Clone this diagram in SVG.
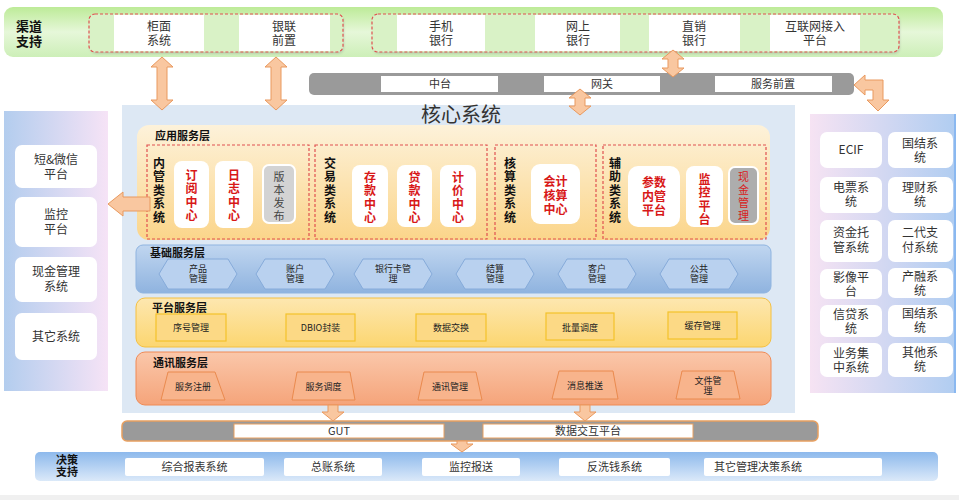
<svg xmlns="http://www.w3.org/2000/svg" width="959" height="500" viewBox="0 0 959 500">
<defs>
<linearGradient id="gGreen" x1="0" y1="0" x2="0" y2="1"><stop offset="0" stop-color="#bdeb98"/><stop offset="0.5" stop-color="#e6f7d9"/><stop offset="1" stop-color="#cdefb8"/></linearGradient>
<linearGradient id="gApp" x1="0" y1="0" x2="0" y2="1"><stop offset="0" stop-color="#fdf2da"/><stop offset="1" stop-color="#fbd58a"/></linearGradient>
<linearGradient id="gBase" x1="0" y1="0" x2="0" y2="1"><stop offset="0" stop-color="#c0d6f0"/><stop offset="1" stop-color="#8fb3df"/></linearGradient>
<linearGradient id="gPlat" x1="0" y1="0" x2="0" y2="1"><stop offset="0" stop-color="#fde7b0"/><stop offset="1" stop-color="#fcd670"/></linearGradient>
<linearGradient id="gComm" x1="0" y1="0" x2="0" y2="1"><stop offset="0" stop-color="#fac7aa"/><stop offset="1" stop-color="#f5a47a"/></linearGradient>
<linearGradient id="gLeft" x1="0" y1="0" x2="1" y2="0"><stop offset="0" stop-color="#b3cdee"/><stop offset="1" stop-color="#f6e3f6"/></linearGradient>
<linearGradient id="gRight" x1="0" y1="0" x2="1" y2="0"><stop offset="0" stop-color="#f6e3f3"/><stop offset="1" stop-color="#b0cdf1"/></linearGradient>
<linearGradient id="gDec" x1="0" y1="0" x2="0" y2="1"><stop offset="0" stop-color="#8db9ec"/><stop offset="1" stop-color="#dbe9f9"/></linearGradient>
<filter id="sh" x="-5%" y="-20%" width="110%" height="150%"><feDropShadow dx="1" dy="2" stdDeviation="1.2" flood-color="#888" flood-opacity="0.5"/></filter>
</defs>
<style>
text{font-family:"Noto Sans CJK SC","Noto Sans",sans-serif;fill:#333;}
.t12{font-size:12px;text-anchor:middle;}
.t11{font-size:11px;text-anchor:middle;}
.t9{font-size:9px;text-anchor:middle;fill:#222;}
.b12{font-size:12px;font-weight:bold;fill:#111;text-anchor:middle;}
.v{writing-mode:vertical-rl;text-anchor:start;letter-spacing:1.5px;}
.vb{font-size:12px;font-weight:bold;fill:#111;}
.lay{font-size:11px;font-weight:bold;fill:#111;}
.red{font-size:12px;font-weight:bold;fill:#d81818;text-anchor:middle;}
.vred{font-size:12px;font-weight:bold;fill:#d81818;}
.wbox{fill:#fff;}
.dash{fill:none;stroke:#e05050;stroke-width:1.2;stroke-dasharray:3,2;}
.card{fill:#fff;}
.gcard{stroke:#fff;stroke-width:2;}
.arrow{fill:#f9c7a0;stroke:#e9995e;stroke-width:1;}
.hex{fill:#b9d1ef;stroke:#86abda;stroke-width:1;}
.pbox{fill:#fcd985;stroke:#f3c22a;stroke-width:1.2;}
.trap{fill:#f8b48c;stroke:#ea8a4e;stroke-width:1;}
.rbox{fill:#fff;}
</style>

<!-- channel band -->
<g id="channel">
<rect x="4" y="7" width="939" height="50" rx="9" fill="url(#gGreen)"/>
<text x="29" y="31" class="b12" style="font-size:13px">渠道</text>
<text x="29" y="46" class="b12" style="font-size:13px">支持</text>
</g>
<g id="channel-group1">
<rect x="89" y="14" width="254" height="38" rx="6" fill="#ddd" filter="url(#sh)" opacity="0.6"/>
<rect x="89" y="14" width="254" height="38" rx="6" fill="#d9f2c6"/>
<rect x="114" y="15" width="90" height="36" class="wbox"/>
<rect x="239" y="15" width="91" height="36" class="wbox"/>
<rect x="89" y="14" width="254" height="38" rx="6" class="dash"/>
<text x="159" y="31" class="t12">柜面</text><text x="159" y="45" class="t12">系统</text>
<text x="284" y="31" class="t12">银联</text><text x="284" y="45" class="t12">前置</text>
</g>
<g id="channel-group2">
<rect x="372" y="14" width="527" height="38" rx="6" fill="#ddd" filter="url(#sh)" opacity="0.6"/>
<rect x="372" y="14" width="527" height="38" rx="6" fill="#d9f2c6"/>
<rect x="397" y="15" width="88" height="36" class="wbox"/>
<rect x="535" y="15" width="85" height="36" class="wbox"/>
<rect x="649" y="15" width="91" height="36" class="wbox"/>
<rect x="770" y="15" width="90" height="36" class="wbox"/>
<rect x="372" y="14" width="527" height="38" rx="6" class="dash"/>
<text x="441" y="31" class="t12">手机</text><text x="441" y="45" class="t12">银行</text>
<text x="578" y="31" class="t12">网上</text><text x="578" y="45" class="t12">银行</text>
<text x="694" y="31" class="t12">直销</text><text x="694" y="45" class="t12">银行</text>
<text x="815" y="31" class="t12">互联网接入</text><text x="815" y="45" class="t12">平台</text>
</g>

<!-- gateway bar -->
<g id="gateway">
<rect x="309" y="73" width="545" height="22" rx="5" fill="#9a9a9a"/>
<rect x="381" y="76" width="117" height="16" fill="#fff"/>
<rect x="544" y="76" width="116" height="16" fill="#fff"/>
<rect x="715" y="76" width="117" height="16" fill="#fff"/>
<text x="440" y="88" class="t11">中台</text>
<text x="602" y="88" class="t11">网关</text>
<text x="773" y="88" class="t11">服务前置</text>
</g>

<!-- left panel -->
<g id="left-panel">
<rect x="4" y="111" width="104" height="280" fill="url(#gLeft)"/>
<rect x="15" y="145" width="82" height="43" rx="7" class="rbox"/>
<rect x="15" y="197" width="82" height="50" rx="7" class="rbox"/>
<rect x="15" y="257" width="82" height="45" rx="7" class="rbox"/>
<rect x="15" y="313" width="82" height="47" rx="7" class="rbox"/>
<text x="56" y="164" class="t12">短&amp;微信</text><text x="56" y="179" class="t12">平台</text>
<text x="56" y="219" class="t12">监控</text><text x="56" y="234" class="t12">平台</text>
<text x="56" y="276" class="t12">现金管理</text><text x="56" y="291" class="t12">系统</text>
<text x="56" y="341" class="t12">其它系统</text>
</g>

<!-- right panel -->
<g id="right-panel">
<rect x="810" y="114" width="146" height="279" fill="url(#gRight)"/>
<rect x="954" y="114" width="2" height="279" fill="#8ab8f0"/>
<rect x="820" y="132" width="62" height="36" rx="7" class="rbox"/>
<rect x="888" y="132" width="65" height="36" rx="7" class="rbox"/>
<rect x="820" y="177" width="62" height="36" rx="7" class="rbox"/>
<rect x="888" y="177" width="65" height="36" rx="7" class="rbox"/>
<rect x="820" y="220" width="62" height="42" rx="7" class="rbox"/>
<rect x="888" y="220" width="65" height="42" rx="7" class="rbox"/>
<rect x="820" y="269" width="62" height="30" rx="7" class="rbox"/>
<rect x="888" y="268" width="65" height="30" rx="7" class="rbox"/>
<rect x="820" y="305" width="62" height="32" rx="7" class="rbox"/>
<rect x="888" y="305" width="65" height="32" rx="7" class="rbox"/>
<rect x="820" y="343" width="62" height="34" rx="7" class="rbox"/>
<rect x="888" y="343" width="65" height="34" rx="7" class="rbox"/>
<text x="851" y="154" class="t12">ECIF</text>
<text x="920" y="148" class="t12">国结系</text><text x="920" y="162" class="t12">统</text>
<text x="851" y="192" class="t12">电票系</text><text x="851" y="206" class="t12">统</text>
<text x="920" y="192" class="t12">理财系</text><text x="920" y="206" class="t12">统</text>
<text x="851" y="237" class="t12">资金托</text><text x="851" y="252" class="t12">管系统</text>
<text x="920" y="237" class="t12">二代支</text><text x="920" y="252" class="t12">付系统</text>
<text x="851" y="282" class="t12">影像平</text><text x="851" y="296" class="t12">台</text>
<text x="920" y="281" class="t12">产融系</text><text x="920" y="295" class="t12">统</text>
<text x="851" y="319" class="t12">信贷系</text><text x="851" y="333" class="t12">统</text>
<text x="920" y="318" class="t12">国结系</text><text x="920" y="332" class="t12">统</text>
<text x="851" y="358" class="t12">业务集</text><text x="851" y="372" class="t12">中系统</text>
<text x="920" y="357" class="t12">其他系</text><text x="920" y="371" class="t12">统</text>
</g>

<!-- core system -->
<g id="core">
<rect x="122" y="105" width="673" height="308" fill="#dde8f4"/>
<text x="461" y="122" style="font-size:20px;text-anchor:middle;fill:#333">核心系统</text>
</g>

<g id="app-layer">
<rect x="137" y="125" width="633" height="115" rx="12" fill="url(#gApp)"/>
<text x="155" y="140" class="lay">应用服务层</text>
<rect x="147" y="145" width="162" height="94" class="dash"/>
<rect x="315" y="145" width="172" height="94" class="dash"/>
<rect x="495" y="145" width="101" height="94" class="dash"/>
<rect x="603" y="145" width="163" height="94" class="dash"/>
</g>

<g id="neiguan">
<text x="159" y="157" class="v vb">内管类系统</text>
<rect x="174" y="161" width="35" height="67" rx="8" class="card"/>
<text x="191.5" y="169" class="v vred">订阅中心</text>
<rect x="215" y="161" width="38" height="67" rx="8" class="card"/>
<text x="234" y="169" class="v vred">日志中心</text>
<rect x="263" y="165" width="32" height="58" rx="6" fill="#d3d3d3" class="gcard"/>
<text x="279" y="171.5" class="v" style="font-size:11px;fill:#444;letter-spacing:2px">版本发布</text>
</g>

<g id="jiaoyi">
<text x="330" y="157" class="v vb">交易类系统</text>
<rect x="352" y="165" width="36" height="62" rx="8" class="card"/>
<text x="370" y="171" class="v vred">存款中心</text>
<rect x="397" y="165" width="35" height="62" rx="8" class="card"/>
<text x="414.5" y="171" class="v vred">贷款中心</text>
<rect x="440" y="165" width="36" height="62" rx="8" class="card"/>
<text x="458" y="171" class="v vred">计价中心</text>
</g>

<g id="hesuan">
<text x="510" y="157" class="v vb">核算类系统</text>
<rect x="531" y="164" width="49" height="60" rx="9" class="card"/>
<text x="555.5" y="186" class="red">会计</text>
<text x="555.5" y="200" class="red">核算</text>
<text x="555.5" y="214" class="red">中心</text>
</g>

<g id="fuzhu">
<text x="615" y="157" class="v vb">辅助类系统</text>
<rect x="628" y="166" width="52" height="61" rx="10" class="card"/>
<text x="654" y="187" class="red">参数</text>
<text x="654" y="201" class="red">内管</text>
<text x="654" y="215" class="red">平台</text>
<rect x="686" y="166" width="37" height="61" rx="8" class="card"/>
<text x="704.5" y="173" class="v vred">监控平台</text>
<rect x="729" y="167" width="29" height="57" rx="6" fill="#adadad" class="gcard"/>
<text x="743.5" y="171.5" class="v" style="font-size:11px;fill:#d82020;letter-spacing:2px">现金管理</text>
</g>

<g id="base-layer">
<rect x="136" y="245" width="635" height="48" rx="7" fill="url(#gBase)" stroke="#8fb4e0"/>
<text x="150" y="257" class="lay">基础服务层</text>
<polygon class="hex" points="159,274 168,259 228,259 237,274 228,289 168,289"/>
<polygon class="hex" points="256,274 265,259 325,259 334,274 325,289 265,289"/>
<polygon class="hex" points="354,274 363,259 423,259 432,274 423,289 363,289"/>
<polygon class="hex" points="456,274 465,259 525,259 534,274 525,289 465,289"/>
<polygon class="hex" points="558,274 567,259 627,259 636,274 627,289 567,289"/>
<polygon class="hex" points="660,274 669,259 729,259 738,274 729,289 669,289"/>
<text x="198" y="272" class="t9">产品</text><text x="198" y="282" class="t9">管理</text>
<text x="295" y="272" class="t9">账户</text><text x="295" y="282" class="t9">管理</text>
<text x="393" y="272" class="t9">银行卡管</text><text x="393" y="282" class="t9">理</text>
<text x="495" y="272" class="t9">结算</text><text x="495" y="282" class="t9">管理</text>
<text x="597" y="272" class="t9">客户</text><text x="597" y="282" class="t9">管理</text>
<text x="699" y="272" class="t9">公共</text><text x="699" y="282" class="t9">管理</text>
</g>

<g id="platform-layer">
<rect x="136" y="298" width="635" height="49" rx="9" fill="url(#gPlat)" stroke="#f5c040"/>
<text x="152" y="312" class="lay">平台服务层</text>
<rect x="156" y="314" width="70" height="27" class="pbox"/>
<rect x="286" y="314" width="69" height="27" class="pbox"/>
<rect x="416" y="314" width="70" height="27" class="pbox"/>
<rect x="546" y="313" width="68" height="27" class="pbox"/>
<rect x="668" y="312" width="69" height="27" class="pbox"/>
<text x="191" y="331" class="t9">序号管理</text>
<text x="320.5" y="331" class="t9">DBIO封装</text>
<text x="451" y="331" class="t9">数据交换</text>
<text x="580" y="331" class="t9">批量调度</text>
<text x="702.5" y="329" class="t9">缓存管理</text>
</g>

<g id="comm-layer">
<rect x="136" y="352" width="635" height="53" rx="9" fill="url(#gComm)" stroke="#f08a55"/>
<text x="153" y="367" class="lay">通讯服务层</text>
<polygon class="trap" points="168,372 215,372 225,400 161,400"/>
<polygon class="trap" points="297,372 350,372 355,400 292,400"/>
<polygon class="trap" points="424,372 476,372 482,400 418,400"/>
<polygon class="trap" points="559,371 613,371 618,399 552,399"/>
<polygon class="trap" points="682,371 734,371 740,399 676,399"/>
<text x="193" y="390" class="t9">服务注册</text>
<text x="323.5" y="390" class="t9">服务调度</text>
<text x="450" y="390" class="t9">通讯管理</text>
<text x="585" y="389" class="t9">消息推送</text>
<text x="708" y="384" class="t9">文件管</text><text x="708" y="394" class="t9">理</text>
</g>

<!-- GUT bar -->
<g id="gut">
<rect x="122" y="421" width="696" height="20" rx="5" fill="#9a9a9a" stroke="#e8a060" stroke-width="1.5"/>
<rect x="234" y="424" width="210" height="14" fill="#fff" stroke="#e8a060"/>
<rect x="483" y="424" width="210" height="14" fill="#fff" stroke="#e8a060"/>
<text x="339" y="435" class="t11">GUT</text>
<text x="588" y="435" class="t11">数据交互平台</text>
</g>

<!-- decision band -->
<g id="decision">
<rect x="35" y="452" width="903" height="29" rx="5" fill="url(#gDec)"/>
<text x="67" y="464" class="b12" style="font-size:11px">决策</text>
<text x="67" y="476" class="b12" style="font-size:11px">支持</text>
<rect x="125" y="458" width="139" height="18" rx="2" fill="#fff"/>
<rect x="284" y="458" width="98" height="18" rx="2" fill="#fff"/>
<rect x="422" y="458" width="98" height="18" rx="2" fill="#fff"/>
<rect x="559" y="458" width="111" height="18" rx="2" fill="#fff"/>
<rect x="704" y="458" width="178" height="18" rx="2" fill="#fff"/>
<text x="194.5" y="471" class="t11">综合报表系统</text>
<text x="333" y="471" class="t11">总账系统</text>
<text x="471" y="471" class="t11">监控报送</text>
<text x="614.5" y="471" class="t11">反洗钱系统</text>
<text x="714" y="471" style="font-size:11px">其它管理决策系统</text>
</g>

<rect x="0" y="495" width="959" height="5" fill="#f0f0f0"/>

<!-- connectors -->
<g id="connectors">
<path class="arrow" d="M162,57 L173,67 L167,67 L167,100 L173,100 L162,110 L151,100 L157,100 L157,67 L151,67 Z"/>
<path class="arrow" d="M276,57 L287,67 L281,67 L281,100 L287,100 L276,110 L265,100 L271,100 L271,67 L265,67 Z"/>
<path class="arrow" d="M673,50 L684,59 L678,59 L678,68 L684,68 L673,77 L662,68 L668,68 L668,59 L662,59 Z"/>
<path class="arrow" d="M580,89 L591,98 L585,98 L585,106 L591,106 L580,115 L569,106 L575,106 L575,98 L569,98 Z"/>
<path class="arrow" d="M854,85 L865,75 L865,80 L883,80 L883,100 L889,100 L878,111 L867,100 L873,100 L873,90 L865,90 L865,95 Z"/>
<path class="arrow" d="M108,204 L123,192 L123,197 L150,197 L150,211 L123,211 L123,216 Z"/>
<path class="arrow" d="M328,405 L338,405 L338,412 L344,412 L333,421 L322,412 L328,412 Z"/>
<path class="arrow" d="M580,405 L590,405 L590,412 L596,412 L585,421 L574,412 L580,412 Z"/>
<path class="arrow" d="M457,441 L467,441 L467,444 L473,444 L462,452 L451,444 L457,444 Z"/>
</g>
</svg>
